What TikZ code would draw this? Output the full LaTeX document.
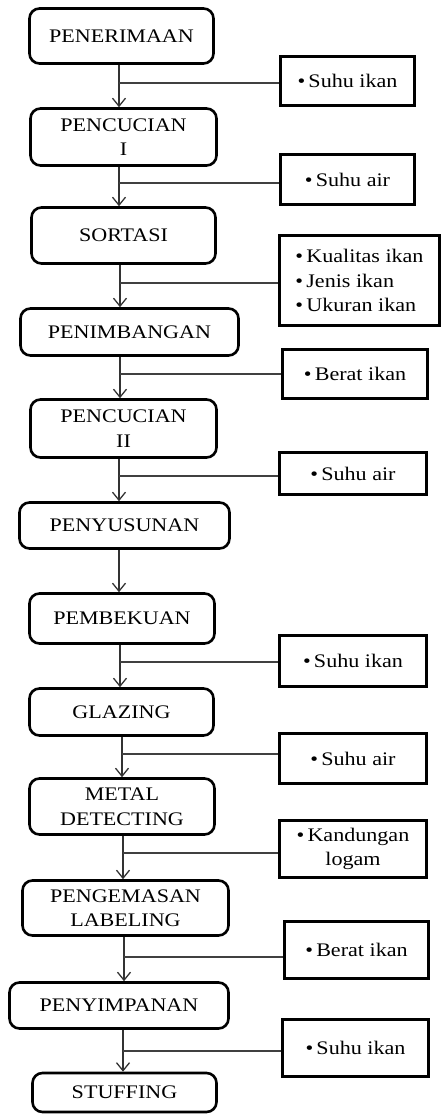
\documentclass[tikz,border=0pt]{standalone}
\usepackage{fontspec}
\setmainfont{Liberation Serif}[FakeStretch=1.15]
\usetikzlibrary{arrows.meta}
\newcommand\figfont{\fontsize{19.2}{24.5}\selectfont}
\tikzset{
  stepbox/.style={draw, line width=2.6pt, rounded corners=10pt, align=center,
    inner sep=0pt, font=\figfont},
  notebox/.style={draw, line width=2.6pt, align=center, inner sep=0pt, font=\figfont},
  flow/.style={line width=1.3pt, draw=black!80, -{Straight Barb[length=8pt,width=13pt]}},
  branch/.style={line width=1.3pt, draw=black!75},
}
\begin{document}
\begin{tikzpicture}[x=1pt,y=-1pt]
\useasboundingbox (0,0) rectangle (442,1115);

% process steps
\node[stepbox, minimum width=184pt, minimum height=55pt] (s1) at (121.5,36) {PENERIMAAN};
\node[stepbox, minimum width=186pt, minimum height=57pt] (s2) at (123.5,137) {PENCUCIAN\\I};
\node[stepbox, minimum width=184pt, minimum height=56pt] (s3) at (123.5,235.5) {SORTASI};
\node[stepbox, minimum width=218pt, minimum height=47pt] (s4) at (129.5,332) {PENIMBANGAN};
\node[stepbox, minimum width=186pt, minimum height=58pt] (s5) at (123.5,428.5) {PENCUCIAN\\II};
\node[stepbox, minimum width=210pt, minimum height=46pt] (s6) at (124.5,525.5) {PENYUSUNAN};
\node[stepbox, minimum width=185pt, minimum height=50pt] (s7) at (122,618.5) {PEMBEKUAN};
\node[stepbox, minimum width=184pt, minimum height=47pt] (s8) at (121.5,712) {GLAZING};
\node[stepbox, minimum width=185pt, minimum height=56pt] (s9) at (122,806.5) {METAL\\DETECTING};
\node[stepbox, minimum width=206pt, minimum height=55pt] (s10) at (125.5,908) {PENGEMASAN\\LABELING};
\node[stepbox, minimum width=219pt, minimum height=46pt] (s11) at (119,1005.5) {PENYIMPANAN};
\node[stepbox, minimum width=184pt, minimum height=39pt] (s12) at (124.5,1092.5) {STUFFING};

% control points
\node[notebox, minimum width=134pt, minimum height=49pt] (k1) at (347.5,81) {•\,Suhu ikan};
\node[notebox, minimum width=134pt, minimum height=50pt] (k2) at (347.5,179.5) {•\,Suhu air};
\node[notebox, minimum width=160pt, minimum height=90pt, align=left] (k3) at (359.5,280.5)
  {•\,Kualitas ikan\\•\,Jenis ikan\\•\,Ukuran ikan};
\node[notebox, minimum width=145pt, minimum height=49pt] (k4) at (355,374) {•\,Berat ikan};
\node[notebox, minimum width=147pt, minimum height=42pt] (k5) at (353,473.5) {•\,Suhu air};
\node[notebox, minimum width=147pt, minimum height=51pt] (k6) at (353,661) {•\,Suhu ikan};
\node[notebox, minimum width=147pt, minimum height=50pt] (k7) at (353,758.5) {•\,Suhu air};
\node[notebox, minimum width=147pt, minimum height=57pt] (k8) at (353,849) {•\,Kandungan\\logam};
\node[notebox, minimum width=144pt, minimum height=57pt] (k9) at (356.5,950) {•\,Berat ikan};
\node[notebox, minimum width=146pt, minimum height=57pt] (k10) at (355.5,1048) {•\,Suhu ikan};

% junctions on the main line
\coordinate (j1) at (119,83);
\coordinate (j2) at (119,183);
\coordinate (j3) at (120,283);
\coordinate (j4) at (120,374);
\coordinate (j5) at (119,476);
\coordinate (j6) at (119,570);
\coordinate (j7) at (120,662);
\coordinate (j8) at (122,754);
\coordinate (j9) at (123,853);
\coordinate (j10) at (124,957);
\coordinate (j11) at (123,1051);

% flow arrows
\draw[flow] (s1.south -| j1) -- (s2.north -| j1);
\draw[flow] (s2.south -| j2) -- (s3.north -| j2);
\draw[flow] (s3.south -| j3) -- (s4.north -| j3);
\draw[flow] (s4.south -| j4) -- (s5.north -| j4);
\draw[flow] (s5.south -| j5) -- (s6.north -| j5);
\draw[flow] (s6.south -| j6) -- (s7.north -| j6);
\draw[flow] (s7.south -| j7) -- (s8.north -| j7);
\draw[flow] (s8.south -| j8) -- (s9.north -| j8);
\draw[flow] (s9.south -| j9) -- (s10.north -| j9);
\draw[flow] (s10.south -| j10) -- (s11.north -| j10);
\draw[flow] (s11.south -| j11) -- (s12.north -| j11);

% branches to the control points
\draw[branch] (j1) -- (k1.west |- j1);
\draw[branch] (j2) -- (k2.west |- j2);
\draw[branch] (j3) -- (k3.west |- j3);
\draw[branch] (j4) -- (k4.west |- j4);
\draw[branch] (j5) -- (k5.west |- j5);
\draw[branch] (j7) -- (k6.west |- j7);
\draw[branch] (j8) -- (k7.west |- j8);
\draw[branch] (j9) -- (k8.west |- j9);
\draw[branch] (j10) -- (k9.west |- j10);
\draw[branch] (j11) -- (k10.west |- j11);
\end{tikzpicture}
\end{document}
